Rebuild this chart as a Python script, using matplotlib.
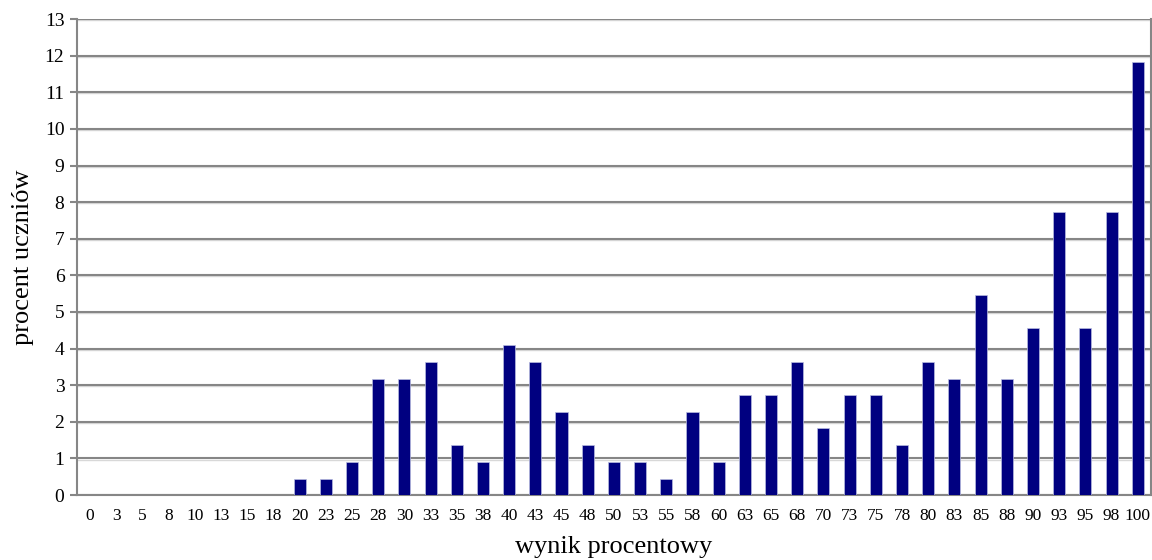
import matplotlib
matplotlib.use("Agg")
import matplotlib.pyplot as plt
import numpy as np

categories = ["0", "3", "5", "8", "10", "13", "15", "18", "20", "23", "25", "28", "30",
              "33", "35", "38", "40", "43", "45", "48", "50", "53", "55", "58", "60",
              "63", "65", "68", "70", "73", "75", "78", "80", "83", "85", "88", "90",
              "93", "95", "98", "100"]
values = [0, 0, 0, 0, 0, 0, 0, 0, 0.45, 0.45, 0.91, 3.18, 3.18,
          3.64, 1.36, 0.91, 4.09, 3.64, 2.27, 1.36, 0.91, 0.91, 0.45, 2.27, 0.91,
          2.73, 2.73, 3.64, 1.82, 2.73, 2.73, 1.36, 3.64, 3.18, 5.45, 3.18, 4.55,
          7.73, 4.55, 7.73, 11.82]
yticks = list(range(0, 14))

plt.rcParams['font.family'] = ['Liberation Serif', 'DejaVu Serif']

fig = plt.figure(figsize=(11.52, 5.6), dpi=100)
ax = fig.add_axes([0.0668, 0.116, 0.9322, 0.85])

x = np.arange(len(categories))
ax.bar(x, values, width=0.46, color='#000080', edgecolor='#b8bce0', linewidth=0.5, zorder=3)

ax.set_xlim(-0.5, len(categories) - 0.5)
ax.set_ylim(0, 13)
ax.set_yticks(yticks)
ax.set_yticklabels([str(t) for t in yticks], fontsize=14)
ax.set_xticks(x)
ax.set_xticklabels(categories, fontsize=12.5)
ax.tick_params(axis='x', length=0, pad=9)
ax.tick_params(axis='y', length=5, width=1.5, color='#868686', pad=4)

for t in yticks:
    ax.axhline(t, color='#868686', linewidth=1.5, zorder=1)
    ax.axhline(t - 0.03, color='#d8d8d8', linewidth=1.0, zorder=0.9)

for side in ['left', 'right', 'bottom']:
    ax.spines[side].set_color('#868686')
    ax.spines[side].set_linewidth(1.5)
ax.spines['top'].set_visible(False)

ax.set_xlabel('wynik procentowy', fontsize=19, labelpad=9)
ax.set_ylabel('procent uczniów', fontsize=19, labelpad=8)

fig.savefig('out.png', dpi=100)
